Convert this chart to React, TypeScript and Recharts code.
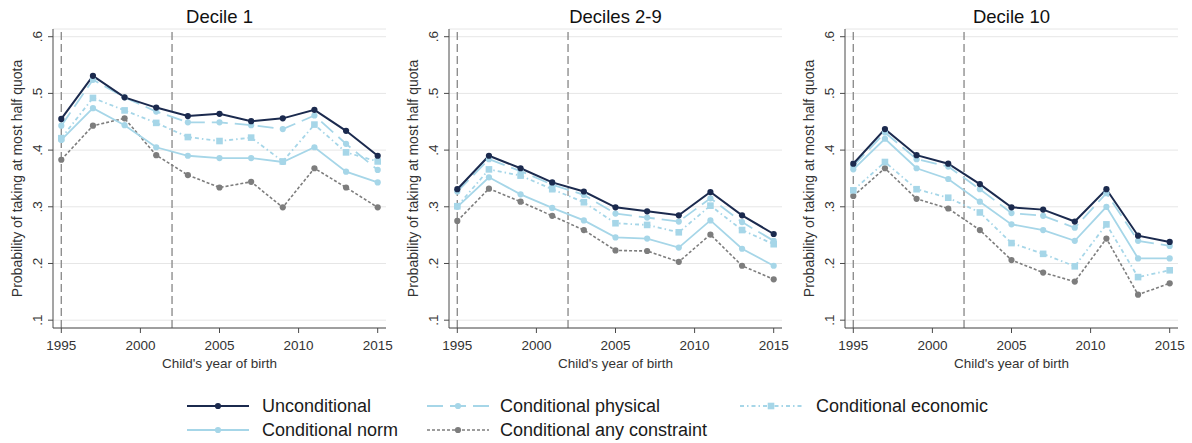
import React from "react";
import {
  LineChart,
  Line,
  XAxis,
  YAxis,
  CartesianGrid,
  ReferenceLine,
  Label,
} from "recharts";

const years = [1995, 1997, 1999, 2001, 2003, 2005, 2007, 2009, 2011, 2013, 2015];
const panelTitles = ["Decile 1", "Deciles 2-9", "Decile 10"];
const seriesNames = [
  "Unconditional",
  "Conditional physical",
  "Conditional economic",
  "Conditional norm",
  "Conditional any constraint",
];
const xTicks = [1995, 2000, 2005, 2010, 2015];
const yTicks = [0.1, 0.2, 0.3, 0.4, 0.5, 0.6];
const cutoffYears = [1995, 2002];

// Decile 1
const uncond1 = [0.455, 0.531, 0.493, 0.475, 0.46, 0.464, 0.451, 0.456, 0.471, 0.434, 0.39];
const phys1 = [0.443, 0.524, 0.493, 0.468, 0.449, 0.449, 0.444, 0.437, 0.461, 0.411, 0.365];
const econ1 = [0.421, 0.492, 0.47, 0.448, 0.423, 0.416, 0.422, 0.38, 0.445, 0.396, 0.38];
const norm1 = [0.418, 0.474, 0.444, 0.405, 0.39, 0.386, 0.386, 0.379, 0.405, 0.362, 0.343];
const any1 = [0.383, 0.443, 0.456, 0.391, 0.356, 0.334, 0.344, 0.299, 0.368, 0.334, 0.299];

// Deciles 2-9
const uncond2 = [0.331, 0.39, 0.368, 0.343, 0.327, 0.299, 0.292, 0.285, 0.326, 0.285, 0.252];
const phys2 = [0.327, 0.384, 0.363, 0.339, 0.321, 0.288, 0.281, 0.274, 0.315, 0.273, 0.24];
const econ2 = [0.301, 0.366, 0.355, 0.331, 0.308, 0.271, 0.268, 0.255, 0.302, 0.259, 0.234];
const norm2 = [0.3, 0.352, 0.322, 0.298, 0.276, 0.246, 0.244, 0.228, 0.276, 0.226, 0.196];
const any2 = [0.275, 0.332, 0.309, 0.284, 0.259, 0.223, 0.222, 0.203, 0.251, 0.196, 0.172];

// Decile 10
const uncond3 = [0.376, 0.437, 0.391, 0.376, 0.34, 0.299, 0.295, 0.274, 0.331, 0.249, 0.238];
const phys3 = [0.372, 0.431, 0.384, 0.371, 0.331, 0.289, 0.284, 0.263, 0.324, 0.24, 0.231];
const econ3 = [0.329, 0.379, 0.331, 0.316, 0.29, 0.236, 0.217, 0.195, 0.269, 0.176, 0.188];
const norm3 = [0.366, 0.42, 0.368, 0.349, 0.309, 0.269, 0.259, 0.24, 0.3, 0.209, 0.209];
const any3 = [0.319, 0.368, 0.314, 0.297, 0.259, 0.206, 0.184, 0.168, 0.244, 0.145, 0.165];

const panelSeries = [
  [uncond1, phys1, econ1, norm1, any1],
  [uncond2, phys2, econ2, norm2, any2],
  [uncond3, phys3, econ3, norm3, any3],
];

const FONT = "Arial, 'Liberation Sans', sans-serif";
const NAVY = "#1b2a4e";
const LTBLUE = "#a6d6e8";
const GREY = "#7d7d7d";
const AXIS = "#4a4a4a";

const styles = [
  { key: "s0", color: NAVY, width: 2, dash: undefined, marker: "circle" },
  { key: "s1", color: LTBLUE, width: 1.8, dash: "16 7", marker: "circle" },
  { key: "s2", color: LTBLUE, width: 1.8, dash: "4 3 1.5 3", marker: "square" },
  { key: "s3", color: LTBLUE, width: 1.8, dash: undefined, marker: "circle" },
  { key: "s4", color: GREY, width: 1.6, dash: "3 2", marker: "circle" },
];
const drawOrder = [4, 3, 2, 1, 0];

const fmt = (v: number) => v.toFixed(1).replace(/^0/, "");

function YTick(props: any) {
  const { y, payload } = props;
  const cx = 38;
  return (
    <text
      x={cx}
      y={y}
      transform={`rotate(-90 ${cx} ${y})`}
      textAnchor="middle"
      dominantBaseline="central"
      fontSize={13.5}
      fontFamily={FONT}
      fill="#333"
    >
      {fmt(payload.value)}
    </text>
  );
}

function squareDot(color: string) {
  return (p: any) => (
    <rect
      key={`sq-${p.index}`}
      x={p.cx - 3.3}
      y={p.cy - 3.3}
      width={6.6}
      height={6.6}
      fill={color}
    />
  );
}

function Panel({ idx }: { idx: number }) {
  const series = panelSeries[idx];
  const data = years.map((yr, i) => {
    const row: any = { year: yr };
    series.forEach((s, k) => (row[styles[k].key] = s[i]));
    return row;
  });
  return (
    <div style={{ position: "absolute", left: idx * 396, top: 0, width: 396, height: 385 }}>
      <div
        style={{
          position: "absolute",
          left: 53,
          width: 333,
          top: 7,
          textAlign: "center",
          fontFamily: FONT,
          fontSize: 18.5,
          lineHeight: "20px",
          color: "#111",
        }}
      >
        {panelTitles[idx]}
      </div>
      <LineChart width={396} height={385} data={data} margin={{ top: 29, right: 10, bottom: 0, left: 0 }}>
        <CartesianGrid horizontal vertical={false} stroke="#e6e6e6" strokeWidth={1} />
        <XAxis
          dataKey="year"
          type="number"
          domain={[1994.475, 2015.525]}
          allowDataOverflow
          ticks={xTicks}
          height={57}
          stroke={AXIS}
          tickSize={5}
          tickMargin={7}
          tick={{ fontSize: 13.5, fontFamily: FONT, fill: "#333" }}
        >
          <Label
            content={() => (
              <text
                x={219.5}
                y={363}
                textAnchor="middle"
                dominantBaseline="central"
                fontSize={13.5}
                fontFamily={FONT}
                fill="#333"
              >
                Child's year of birth
              </text>
            )}
          />
        </XAxis>
        <YAxis
          type="number"
          domain={[0.0862, 0.6136]}
          allowDataOverflow
          ticks={yTicks}
          width={53}
          stroke={AXIS}
          tickSize={5}
          tick={<YTick />}
        >
          <Label
            content={() => (
              <text
                x={16.5}
                y={178.5}
                transform={`rotate(-90 16.5 178.5)`}
                textAnchor="middle"
                dominantBaseline="central"
                fontSize={14}
                fontFamily={FONT}
                fill="#333"
              >
                Probability of taking at most half quota
              </text>
            )}
          />
        </YAxis>
        {cutoffYears.map((yr) => (
          <ReferenceLine key={yr} x={yr} stroke="#8f8f8f" strokeWidth={1.4} strokeDasharray="8 4" />
        ))}
        {drawOrder.map((k) => {
          const st = styles[k];
          return (
            <Line
              key={st.key}
              dataKey={st.key}
              name={seriesNames[k]}
              type="linear"
              stroke={st.color}
              strokeWidth={st.width}
              strokeDasharray={st.dash}
              dot={
                st.marker === "square"
                  ? squareDot(st.color)
                  : { r: 3.1, fill: st.color, stroke: st.color, strokeWidth: 0 }
              }
              activeDot={false}
              isAnimationActive={false}
            />
          );
        })}
      </LineChart>
    </div>
  );
}

const legendCols = [187, 427, 740];
const legendTextX = [262, 500, 816];
const legendRows = [406, 430];
const legendSlots = [
  [0, 0],
  [1, 0],
  [2, 0],
  [0, 1],
  [1, 1],
];

function LegendBox() {
  return (
    <svg width={1192} height={443} style={{ position: "absolute", left: 0, top: 0, pointerEvents: "none" }}>
      {seriesNames.map((name, k) => {
        const st = styles[k];
        const [c, r] = legendSlots[k];
        const x0 = legendCols[c];
        const x1 = x0 + 62;
        const y = legendRows[r];
        const mx = (x0 + x1) / 2;
        return (
          <g key={name}>
            <line x1={x0} x2={x1} y1={y} y2={y} stroke={st.color} strokeWidth={st.width} strokeDasharray={st.dash} />
            {st.marker === "square" ? (
              <rect x={mx - 3.3} y={y - 3.3} width={6.6} height={6.6} fill={st.color} />
            ) : (
              <circle cx={mx} cy={y} r={3.1} fill={st.color} />
            )}
            <text
              x={legendTextX[c]}
              y={y}
              dominantBaseline="central"
              fontSize={18}
              fontFamily={FONT}
              fill="#1a1a1a"
            >
              {name}
            </text>
          </g>
        );
      })}
    </svg>
  );
}

export default function App() {
  return (
    <div style={{ position: "absolute", left: 0, top: 0, width: 1192, height: 443, background: "#fff" }}>
      {panelTitles.map((_, i) => (
        <Panel key={i} idx={i} />
      ))}
      <LegendBox />
    </div>
  );
}
